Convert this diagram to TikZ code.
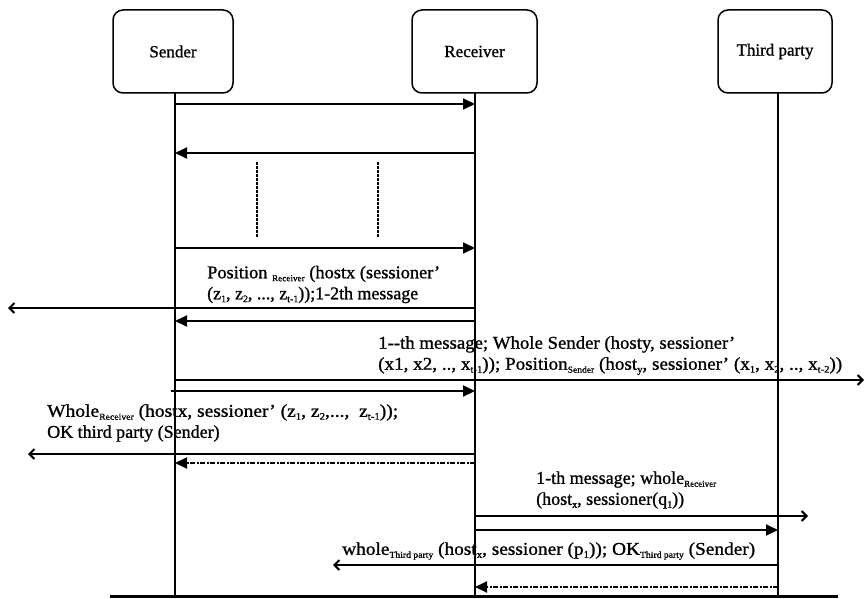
\documentclass[tikz,border=0pt]{standalone}
\usepackage{fontspec}
\usepackage{graphicx}
\setmainfont{Liberation Serif}[FakeBold=1.0]
\usetikzlibrary{arrows.meta}
\newcommand{\subt}[1]{\raisebox{-0.35ex}{\fontsize{9}{10}\selectfont #1}}
\newcommand{\ix}[1]{\raisebox{-0.35ex}{\fontsize{10}{11}\selectfont #1}}
\newcommand{\fitline}[2]{\resizebox{#1}{\height}{#2}}
\begin{document}
\begin{tikzpicture}[x=1pt,y=-1pt,
  actor/.style={draw,line width=1.5pt,rounded corners=10pt,minimum height=83pt,font=\fontsize{17}{19}\selectfont},
  life/.style={line width=1.8pt},
  sync/.style={line width=2pt,-{Triangle[length=12pt,width=11pt]}},
  syncdash/.style={line width=2pt,dash pattern=on 5pt off 1.5pt on 2pt off 1.5pt,-{Triangle[length=12pt,width=11pt]}},
  ext/.style={line width=2pt,-{Straight Barb[length=5pt,width=10pt,line width=2pt]}},
  vdash/.style={line width=2.2pt,dash pattern=on 3pt off 1pt},
  lbl/.style={anchor=west,align=left,inner sep=0pt,font=\fontsize{18}{21}\selectfont}]
\useasboundingbox (0,0) rectangle (864,599);
\begin{scope}
\clip (0,0) rectangle (864,599);
% actors
\node[actor,minimum width=120pt] (S) at (173,51.5) {Sender};
\node[actor,minimum width=125pt] (R) at (474.5,51.5) {Receiver};
\node[actor,minimum width=114pt] (T) at (775,51.5) {Third party};
% lifeline ends
\coordinate (Se) at (175,596);
\coordinate (Re) at (475,596);
\coordinate (Te) at (778,596);
\draw[life] (175,93) -- (Se);
\draw[life] (475,93) -- (Re);
\draw[life] (778,93) -- (Te);
% bottom line
\coordinate (B1) at (110,596);
\coordinate (B2) at (838,596);
\draw[line width=3pt] (B1) -- (B2);
% message endpoints
\coordinate (s1) at (175,104); \coordinate (r1) at (475,104);
\coordinate (s2) at (175,153); \coordinate (r2) at (475,153);
\coordinate (s3) at (175,248); \coordinate (r3) at (475,248);
\coordinate (r4) at (475,308); \coordinate (x4) at (8,308);
\coordinate (s5) at (175,321); \coordinate (r5) at (475,321);
\coordinate (s6) at (175,380); \coordinate (x6) at (864,380);
\coordinate (s7) at (171,391); \coordinate (r7) at (475,391);
\coordinate (r8) at (475,454); \coordinate (x8) at (28,454);
\coordinate (s9) at (175,463); \coordinate (r9) at (475,463);
\coordinate (r10) at (475,516); \coordinate (x10) at (808,516);
\coordinate (r11) at (475,530); \coordinate (t11) at (778,530);
\coordinate (t12) at (778,565); \coordinate (x12) at (333,565);
\coordinate (t13) at (778,587); \coordinate (r13) at (475,587);
% dashed verticals
\coordinate (d1a) at (257,162); \coordinate (d1b) at (257,237);
\coordinate (d2a) at (378,162); \coordinate (d2b) at (378,237);
\draw[vdash] (d1a) -- (d1b);
\draw[vdash] (d2a) -- (d2b);
% messages
\draw[sync] (s1) -- (r1);
\draw[sync] (r2) -- (s2);
\draw[sync] (s3) -- (r3);
\draw[ext] (r4) -- (x4);
\draw[sync] (r5) -- (s5);
\draw[ext] (s6) -- (x6);
\draw[sync] (s7) -- (r7);
\draw[ext] (r8) -- (x8);
\draw[syncdash] (r9) -- (s9);
\draw[ext] (r10) -- (x10);
\draw[sync] (r11) -- (t11);
\draw[ext] (t12) -- (x12);
\draw[syncdash] (t13) -- (r13);
% labels
\node[lbl] (L1) at (207,284.5) {\fitline{233pt}{Position \subt{Receiver} (hostx (sessioner'}\\\fitline{211pt}{(z\ix{1}, z\ix{2}, ..., z\ix{t-1}));1-2th message}};
\node[lbl] (L2) at (378,355.5) {\fitline{357pt}{1-{}-th message; Whole Sender (hosty, sessioner'}\\\fitline{464pt}{(x1, x2, .., x\ix{t-1})); Position\subt{Sender} (host\ix{y}, sessioner' (x\ix{1}, x\ix{2}, .., x\ix{t-2}))}};
\node[lbl] (L3) at (47,423) {\fitline{351pt}{Whole\subt{Receiver} (hostx, sessioner' (z\ix{1}, z\ix{2},...,\ \ z\ix{t-1}));}\\OK third party (Sender)};
\node[lbl] (L4) at (536,490) {1-th message; whole\subt{Receiver}\\(host\ix{x}, sessioner(q\ix{1}))};
\node[lbl] (L5) at (342,551) {\fitline{413pt}{whole\subt{Third party} (host\ix{x}, sessioner (p\ix{1})); OK\subt{Third party} (Sender)}};
\end{scope}
\end{tikzpicture}
\end{document}
